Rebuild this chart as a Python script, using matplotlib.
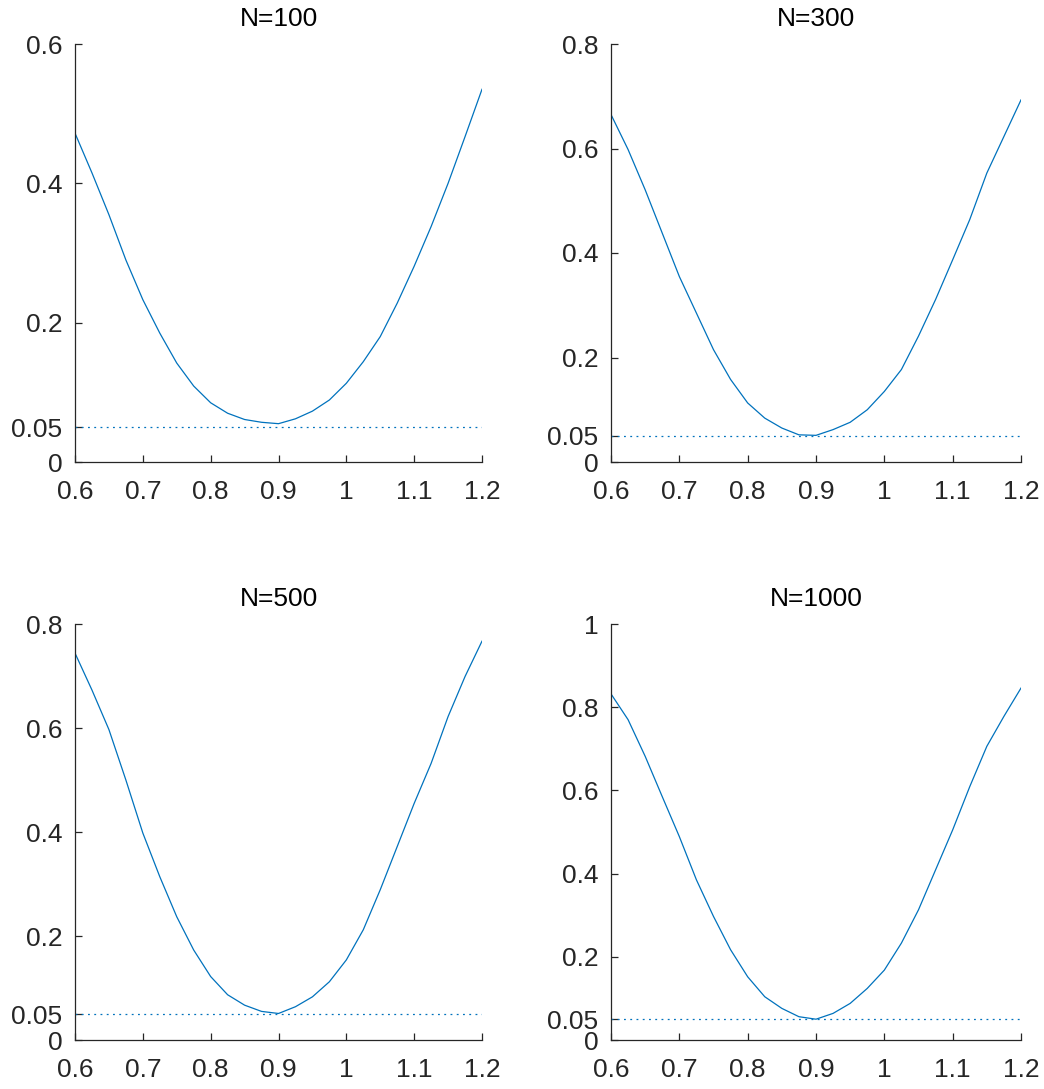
import numpy as np
import matplotlib.pyplot as plt

plt.rcParams['font.family'] = ['Liberation Sans', 'DejaVu Sans']

# x grid (every 0.025)
x = np.round(np.arange(0.6, 1.2001, 0.025), 3)

power_100 = [0.472, 0.415, 0.355, 0.290, 0.233, 0.185, 0.142, 0.109, 0.085,
             0.070, 0.061, 0.057, 0.055, 0.062, 0.073, 0.089, 0.113, 0.144,
             0.180, 0.228, 0.281, 0.338, 0.400, 0.467, 0.535]
power_300 = [0.665, 0.598, 0.521, 0.438, 0.355, 0.285, 0.215, 0.158, 0.113,
             0.084, 0.065, 0.052, 0.051, 0.062, 0.076, 0.100, 0.135, 0.177,
             0.241, 0.311, 0.387, 0.464, 0.553, 0.623, 0.693]
power_500 = [0.744, 0.673, 0.597, 0.500, 0.398, 0.314, 0.237, 0.173, 0.122,
             0.087, 0.067, 0.055, 0.051, 0.064, 0.083, 0.112, 0.154, 0.212,
             0.289, 0.372, 0.455, 0.532, 0.622, 0.699, 0.767]
power_1000 = [0.832, 0.770, 0.682, 0.585, 0.489, 0.385, 0.297, 0.217, 0.152,
              0.104, 0.076, 0.056, 0.050, 0.064, 0.088, 0.124, 0.168, 0.233,
              0.313, 0.409, 0.505, 0.609, 0.706, 0.778, 0.846]

titles = ['N=100', 'N=300', 'N=500', 'N=1000']
series = [power_100, power_300, power_500, power_1000]
ytops = [0.6, 0.8, 0.8, 1.0]
yticks = [[0, 0.05, 0.2, 0.4, 0.6],
          [0, 0.05, 0.2, 0.4, 0.6, 0.8],
          [0, 0.05, 0.2, 0.4, 0.6, 0.8],
          [0, 0.05, 0.2, 0.4, 0.6, 0.8, 1]]
xticks = [0.6, 0.7, 0.8, 0.9, 1, 1.1, 1.2]
alpha = 0.05

W, H = 1044, 1089
fig = plt.figure(figsize=(W / 100, H / 100), dpi=100)

# axes boxes in pixels: left, top, right, bottom
boxes = [(75, 44, 482, 462), (611, 44, 1021, 462),
         (75, 624, 482, 1040), (611, 624, 1021, 1040)]

dark = '#262626'
blue = '#0072BD'

def fmt(v):
    return ('%g' % v)

for i in range(4):
    l, t, r, b = boxes[i]
    ax = fig.add_axes([l / W, 1 - b / H, (r - l) / W, (b - t) / H])
    ax.plot(x, series[i], color=blue, lw=0.9)
    ax.axhline(alpha, color=blue, lw=0.9, ls=(0, (1.5, 3.5)))
    ax.set_xlim(0.6, 1.2)
    ax.set_ylim(0, ytops[i])
    ax.set_xticks(xticks)
    ax.set_xticklabels([fmt(v) for v in xticks])
    ax.set_yticks(yticks[i])
    ax.set_yticklabels([fmt(v) for v in yticks[i]])
    for s in ['top', 'right']:
        ax.spines[s].set_visible(False)
    for s in ['left', 'bottom']:
        ax.spines[s].set_color(dark)
        ax.spines[s].set_linewidth(0.9)
    ax.tick_params(direction='in', length=5, width=0.9, color=dark,
                   labelcolor=dark, labelsize=19)
    ax.tick_params(axis='x', pad=13)
    ax.tick_params(axis='y', pad=9)
    ax.set_title(titles[i], fontsize=19, color='black', pad=13)

fig.savefig('out.png', dpi=100)
